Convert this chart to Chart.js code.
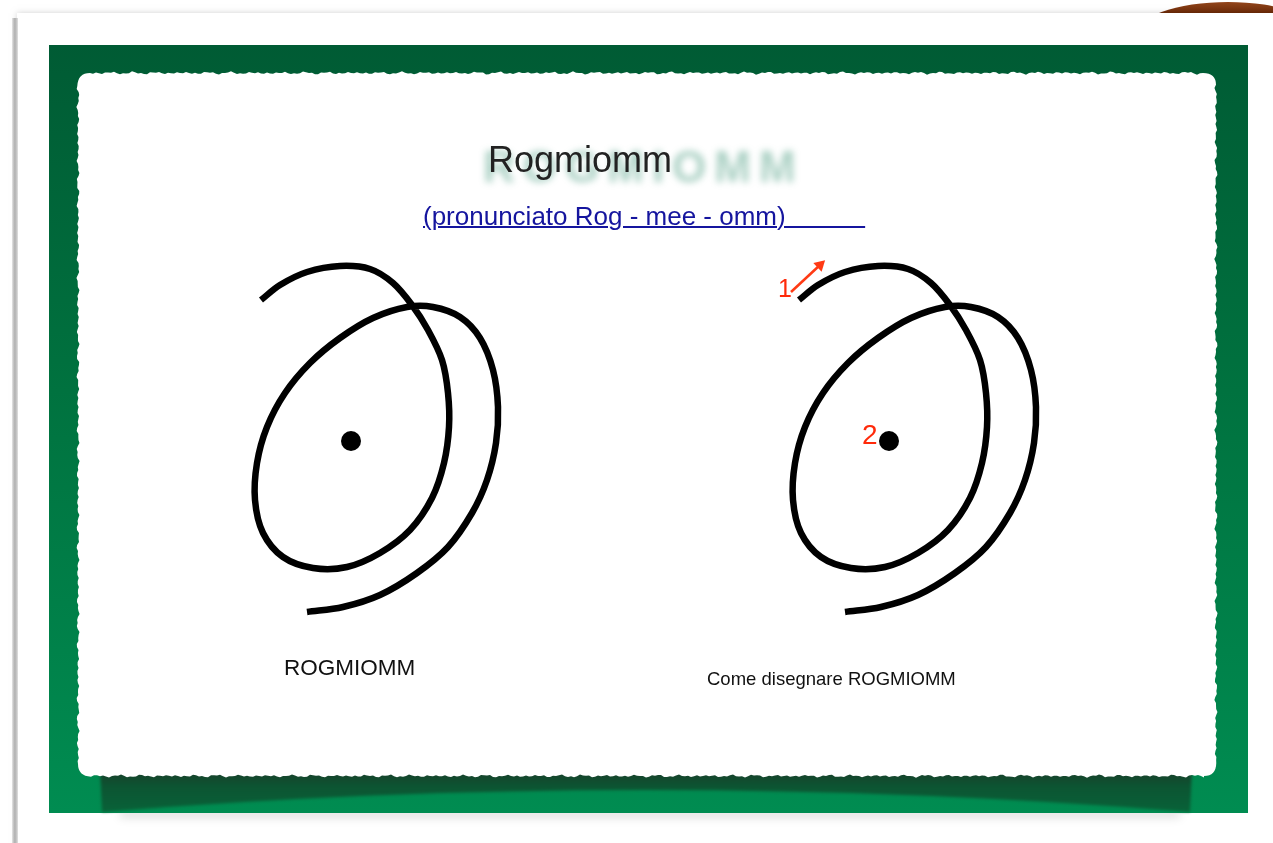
<!DOCTYPE html>
<html>
<head>
<meta charset="utf-8">
<script src="https://cdn.jsdelivr.net/npm/chart.js@4.4.1/dist/chart.umd.min.js"></script>
<style>
  body { margin: 0; background: #fff; overflow: hidden; }
  #wrap { position: relative; width: 1273px; height: 843px; font-family: Arial, "Liberation Sans", sans-serif; }
  #chart { position: absolute; left: 0; top: 0; }
  .txt { position: absolute; white-space: pre; z-index: 2; }
  #ghost { left: 483px; top: 145px; font-size: 44px; line-height: 44px; font-weight: bold; letter-spacing: 8px;
           color: rgba(0, 115, 75, 0.34); filter: blur(3.5px); }
  #title { left: 488px; top: 142px; font-size: 36px; line-height: 36px; color: #222; }
  #sub { left: 423px; top: 203px; font-size: 26px; line-height: 26px; color: #15159e; text-decoration: underline; text-decoration-thickness: 2px; }
  #cap1 { left: 284px; top: 657px; font-size: 22.5px; line-height: 22px; color: #111; }
  #cap2 { left: 707px; top: 670px; font-size: 18.5px; line-height: 18px; color: #111; }
  .red { color: #ff2a0a; }
  #n1 { left: 778px; top: 276px; font-size: 25px; line-height: 25px; }
  #n2 { left: 862px; top: 421px; font-size: 28px; line-height: 28px; }
</style>
</head>
<body>
<div id="wrap">
  <canvas id="chart" width="1273" height="843"></canvas>
  <div class="txt" id="ghost">ROGMIOMM</div>
  <div class="txt" id="title">Rogmiomm</div>
  <div class="txt" id="sub">(pronunciato Rog - mee - omm)&nbsp;&nbsp;&nbsp;&nbsp;&nbsp;&nbsp;&nbsp;&nbsp;&nbsp;&nbsp;&nbsp;</div>
  <div class="txt" id="cap1">ROGMIOMM</div>
  <div class="txt" id="cap2">Come disegnare ROGMIOMM</div>
  <div class="txt red" id="n1">1</div>
  <div class="txt red" id="n2">2</div>
</div>
<script>
// Symbol stroke (page pixels)
const strokeX = [261, 280, 307, 340, 370, 393, 412, 428, 442, 448, 449, 444, 432, 410, 380, 347, 313, 283, 263, 255,
                 257, 267, 285, 310, 340, 373, 407, 433, 460, 480, 493, 498, 496, 487, 472, 448, 417, 380, 343, 307];
const strokeY = [300, 285, 272, 266, 269, 283, 305, 330, 360, 393, 427, 463, 498, 530, 553, 567, 568, 557, 533, 500,
                 463, 427, 393, 363, 338, 318, 307, 307, 317, 338, 370, 407, 443, 480, 513, 547, 573, 595, 607, 612];
// centre dot
const dotX = [351];
const dotY = [441];
// the second drawing is the same stroke, offset on its own axis
const copyShift = 538;
// red arrow next to "1"
const arrowX = [791, 820];
const arrowY = [292, 265];

const toPts = (xs, ys) => xs.map((x, i) => ({ x: x, y: ys[i] }));

function jag(i) {
  return Math.sin(i * 2.1) * 0.7 + Math.sin(i * 0.77) * 0.6 + Math.sin(i * 5.3) * 0.45;
}

// background: page, green board and torn paper
const framePlugin = {
  id: 'frame',
  beforeDraw(chart) {
    const ctx = chart.ctx;
    ctx.save();
    ctx.fillStyle = '#fff';
    ctx.fillRect(0, 0, 1273, 843);

    // brown tab top right
    let g = ctx.createLinearGradient(0, 0, 0, 14);
    g.addColorStop(0, '#9a4a1e');
    g.addColorStop(1, '#6a2806');
    ctx.fillStyle = g;
    ctx.beginPath();
    ctx.ellipse(1228, 36, 94, 34, 0, 0, Math.PI * 2);
    ctx.fill();

    // page card + edge shadow
    ctx.fillStyle = '#fff';
    ctx.shadowColor = 'rgba(0,0,0,0.18)';
    ctx.shadowBlur = 6;
    ctx.fillRect(17, 13, 1300, 900);
    ctx.shadowBlur = 0;
    g = ctx.createLinearGradient(12, 0, 18, 0);
    g.addColorStop(0, 'rgba(150,150,150,0.2)');
    g.addColorStop(0.5, '#b0b0b0');
    g.addColorStop(1, 'rgba(200,200,200,0.6)');
    ctx.fillStyle = g;
    ctx.fillRect(12, 18, 6, 825);

    // soft shadow under the board
    ctx.filter = 'blur(4px)';
    ctx.fillStyle = 'rgba(0,0,0,0.12)';
    ctx.fillRect(120, 810, 1060, 8);
    ctx.filter = 'none';

    // green board
    g = ctx.createLinearGradient(0, 45, 0, 813);
    g.addColorStop(0, '#005b34');
    g.addColorStop(0.45, '#00723f');
    g.addColorStop(1, '#008c51');
    ctx.fillStyle = g;
    ctx.fillRect(49, 45, 1199, 768);

    // dark band under the paper
    g = ctx.createLinearGradient(0, 772, 0, 812);
    g.addColorStop(0, '#17402a');
    g.addColorStop(0.35, '#0c5432');
    g.addColorStop(1, '#086238');
    ctx.fillStyle = g;
    ctx.filter = 'blur(1.5px)';
    ctx.beginPath();
    ctx.moveTo(100, 768);
    ctx.lineTo(1192, 768);
    ctx.lineTo(1190, 812);
    ctx.quadraticCurveTo(645, 768, 102, 812);
    ctx.closePath();
    ctx.fill();
    ctx.filter = 'none';

    // torn white paper
    const x0 = 78, y0 = 73, x1 = 1216, y1 = 776, r = 12, st = 3;
    let k = 0;
    ctx.beginPath();
    ctx.moveTo(x0 + r, y0);
    for (let x = x0 + r; x <= x1 - r; x += st) ctx.lineTo(x, y0 + jag(k++));
    ctx.quadraticCurveTo(x1, y0, x1, y0 + r);
    for (let y = y0 + r; y <= y1 - r; y += st) ctx.lineTo(x1 + jag(k++), y);
    ctx.quadraticCurveTo(x1, y1, x1 - r, y1);
    for (let x = x1 - r; x >= x0 + r; x -= st) ctx.lineTo(x, y1 + jag(k++));
    ctx.quadraticCurveTo(x0, y1, x0, y1 - r);
    for (let y = y1 - r; y >= y0 + r; y -= st) ctx.lineTo(x0 + jag(k++), y);
    ctx.quadraticCurveTo(x0, y0, x0 + r, y0);
    ctx.closePath();
    ctx.filter = 'blur(0.7px)';
    ctx.fillStyle = '#fff';
    ctx.fill();
    ctx.filter = 'none';
    ctx.restore();
  }
};

// Chart.js handles are tension * (next - prev), so ~1/3 keeps the arcs round
const strokeStyle = {
  borderColor: '#000',
  borderWidth: 6.5,
  borderCapStyle: 'butt',
  borderJoinStyle: 'round',
  pointRadius: 0,
  tension: 0.33,
  fill: false
};

new Chart(document.getElementById('chart'), {
  type: 'line',
  data: {
    datasets: [
      Object.assign({ label: 'ROGMIOMM', data: toPts(strokeX, strokeY), xAxisID: 'x' }, strokeStyle),
      Object.assign({ label: 'Come disegnare', data: toPts(strokeX, strokeY), xAxisID: 'x2' }, strokeStyle),
      { label: 'dot', data: toPts(dotX, dotY), xAxisID: 'x', showLine: false,
        pointRadius: 10, pointBackgroundColor: '#000', pointBorderWidth: 0 },
      { label: 'dot2', data: toPts(dotX, dotY), xAxisID: 'x2', showLine: false,
        pointRadius: 10, pointBackgroundColor: '#000', pointBorderWidth: 0 },
      { label: 'arrow', data: toPts(arrowX, arrowY), xAxisID: 'x',
        borderColor: '#ff3a14', borderWidth: 2.5, tension: 0,
        pointRadius: [0, 7], pointStyle: 'triangle', rotation: 47,
        pointBackgroundColor: '#ff3a14', pointBorderWidth: 0 }
    ]
  },
  options: {
    responsive: false,
    animation: false,
    events: [],
    layout: { padding: 0, autoPadding: false },
    plugins: { legend: { display: false }, tooltip: { enabled: false } },
    scales: {
      x: { type: 'linear', min: 0, max: 1273, display: false },
      x2: { type: 'linear', min: -copyShift, max: 1273 - copyShift, display: false },
      y: { type: 'linear', min: 0, max: 843, reverse: true, display: false }
    }
  },
  plugins: [framePlugin]
});
</script>
</body>
</html>
